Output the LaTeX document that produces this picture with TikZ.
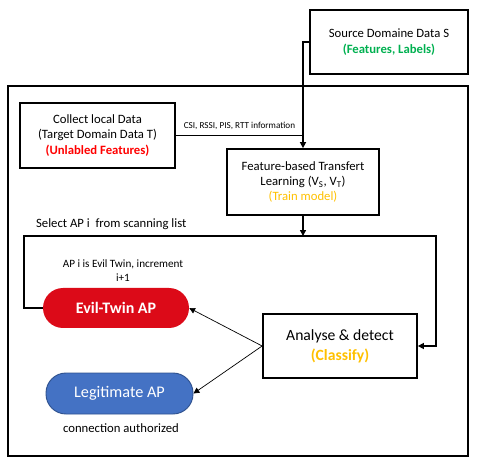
\documentclass[tikz,border=0pt]{standalone}
\usepackage{fontspec}
\setmainfont{Carlito}
\usetikzlibrary{arrows.meta}
\definecolor{srcgreen}{HTML}{00B050}
\definecolor{trainorange}{HTML}{FFC000}
\definecolor{evilred}{HTML}{DC0A18}
\definecolor{legitblue}{HTML}{4472C4}
\definecolor{legitedge}{HTML}{2F528F}

\begin{document}
\begin{tikzpicture}[x=0.85pt, y=-0.85pt, >={Triangle[length=5pt,width=5pt]},
  box/.style={draw, line width=1.5pt, align=center, font=\fontsize{10.8}{13}\selectfont},
  pill/.style={rounded corners=17pt, text=white, align=center},
  flow/.style={line width=1.2pt},
  thin/.style={line width=0.6pt}]
  \useasboundingbox (0,0) rectangle (483,469);

  %=====================================================================
  % outer frame
  %=====================================================================
  \draw[line width=1.5pt] (8,86) rectangle (468,456);

  %=====================================================================
  % boxes
  %=====================================================================
  \node[box, minimum width=134.3pt, minimum height=54.4pt] (src) at (389,42)
    {Source Domaine Data S\\ \textcolor{srcgreen}{\bfseries (Features, Labels)}};
  \node[box, minimum width=131.75pt, minimum height=55.25pt] (collect) at (97.5,135.5)
    {Collect local Data\\ (Target Domain Data T)\\ \textcolor{red}{\bfseries (Unlabled Features)}};
  \node[box, minimum width=129.2pt, minimum height=56.1pt] (feat) at (303,182)
    {Feature-based Transfert\\ Learning (V\textsubscript{S}, V\textsubscript{T})\\ \textcolor{trainorange}{(Train model)}};
  \node[box, minimum width=130.9pt, minimum height=54.4pt, font=\fontsize{13.3}{17}\selectfont] (analyse) at (340,346)
    {Analyse \& detect\\ \textcolor{trainorange}{\bfseries (Classify)}};

  % result pills
  \node[pill, fill=evilred, minimum width=124.1pt, minimum height=34pt,
    font=\fontsize{13.6}{15}\selectfont\bfseries] (evil) at (116,308) {Evil-Twin AP};
  \node[pill, fill=legitblue, draw=legitedge, line width=0.8pt, minimum width=124.95pt,
    minimum height=34.85pt, font=\fontsize{13.8}{15}\selectfont] (legit) at (119.5,393.5) {Legitimate AP};

  %=====================================================================
  % connectors
  %=====================================================================
  \coordinate (join) at (303,236);
  \coordinate (loopL) at (24,236);
  \coordinate (loopR) at (436,236);

  \draw[flow, ->] (src.west) -| (feat.north);
  \draw[flow] (collect.east) -- (collect.east -| feat.north)
    node[midway, above=1pt, font=\fontsize{7.8}{9}\selectfont] {CSI, RSSI, PIS, RTT information};
  \draw[flow, ->] (feat.south) -- (join);
  \draw[flow, ->] (evil.west) -| (loopL) -- (loopR) |- (analyse.east);
  \draw[thin, ->] (analyse.west) -- (evil.east);
  \draw[thin, ->] (analyse.west) -- (legit.east);

  % free labels
  \node[anchor=west, font=\fontsize{10.8}{13}\selectfont] (select) at (32,224) {Select AP i~ from scanning list};
  \node[align=center, font=\fontsize{9.5}{12}\selectfont] (incr) at (123,271) {AP i is Evil Twin, increment\\ i+1};
  \node[font=\fontsize{10.8}{13}\selectfont] (auth) at (121,428) {connection authorized};

\end{tikzpicture}
\end{document}
